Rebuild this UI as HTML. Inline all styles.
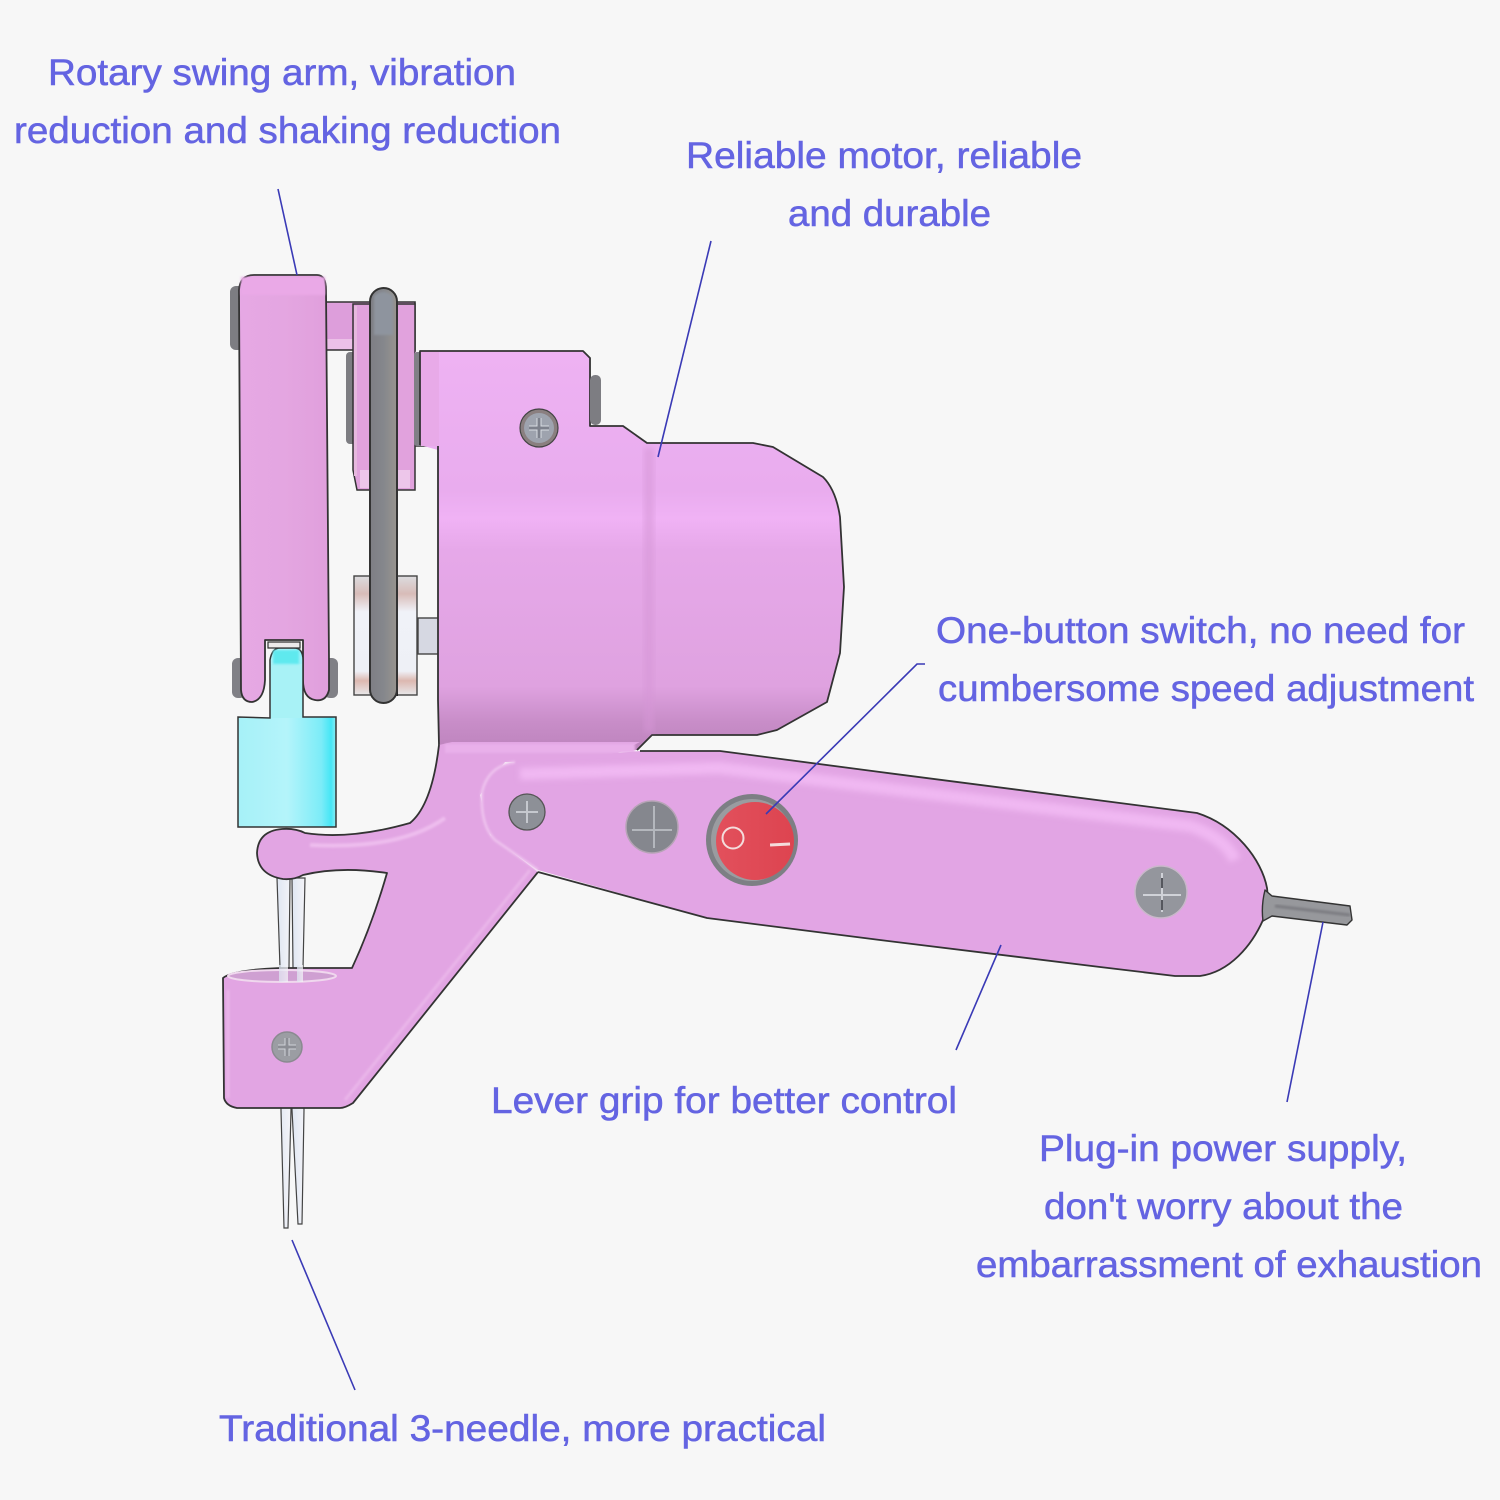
<!DOCTYPE html>
<html><head><meta charset="utf-8"><style>
html,body{margin:0;padding:0;background:#f7f7f7}
svg{display:block}
text{font-family:"Liberation Sans",sans-serif;font-size:37px;fill:#6464e2;stroke:#6464e2;stroke-width:.55px}
</style></head><body>
<svg width="1500" height="1500" viewBox="0 0 1500 1500" xmlns="http://www.w3.org/2000/svg">
<defs>
<filter id="b3" x="-20%" y="-20%" width="140%" height="140%"><feGaussianBlur stdDeviation="3"/></filter>
<filter id="b1" x="-20%" y="-20%" width="140%" height="140%"><feGaussianBlur stdDeviation="1"/></filter>
<linearGradient id="motor" x1="0" y1="0" x2="0" y2="1">
<stop offset="0" stop-color="#eeb2f3"/><stop offset=".35" stop-color="#e9acee"/><stop offset=".42" stop-color="#f0b2f5"/><stop offset=".5" stop-color="#e6a8e9"/><stop offset=".84" stop-color="#dfa2e0"/><stop offset=".93" stop-color="#c88dc8"/><stop offset="1" stop-color="#bd84bd"/>
</linearGradient>
<linearGradient id="arm" x1="0" y1="0" x2="1" y2="0">
<stop offset="0" stop-color="#e6a8e4"/><stop offset=".5" stop-color="#e4a6e1"/><stop offset="1" stop-color="#e09fdc"/>
</linearGradient>
<linearGradient id="cyan" x1="0" y1="0" x2="1" y2="0">
<stop offset="0" stop-color="#a6f1f8"/><stop offset=".5" stop-color="#b4f4fa"/><stop offset=".85" stop-color="#7cecf8"/><stop offset=".95" stop-color="#45e6f6"/><stop offset="1" stop-color="#8cecf4"/>
</linearGradient>
<linearGradient id="belt" x1="0" y1="0" x2="1" y2="0">
<stop offset="0" stop-color="#7e7e84"/><stop offset=".5" stop-color="#85878c"/><stop offset="1" stop-color="#98948f"/>
</linearGradient>
<linearGradient id="silver" x1="0" y1="0" x2="0" y2="1">
<stop offset="0" stop-color="#dcdcdf"/><stop offset=".15" stop-color="#d8bcb8"/><stop offset=".3" stop-color="#f0f2f8"/><stop offset=".8" stop-color="#eef0f6"/><stop offset=".88" stop-color="#dcb8b0"/><stop offset="1" stop-color="#e8e8ea"/>
</linearGradient>
<linearGradient id="red" x1="0" y1="0" x2="1" y2="0">
<stop offset="0" stop-color="#e2505c"/><stop offset="1" stop-color="#dd4450"/>
</linearGradient>
<linearGradient id="needle" x1="0" y1="0" x2="1" y2="0">
<stop offset="0" stop-color="#dfe6f2"/><stop offset="1" stop-color="#f4f4f8"/>
</linearGradient>
</defs>
<rect width="1500" height="1500" fill="#f7f7f7"/>

<!-- needles -->
<g stroke="#444" stroke-width="1.2" fill="url(#needle)">
<path d="M277 878 L280 968 L281 1110 L284 1228 L288 1228 L291 1110 L289 968 L290 878Z"/>
<path d="M292 878 L293 968 L292 1110 L298 1224 L302 1224 L304 1110 L303 968 L305 878Z"/>
</g>

<!-- top link bar and shaft -->
<path d="M326 302 H415 V350 H326Z" fill="#dfa0dc" stroke="#333" stroke-width="1.6"/>
<rect x="326" y="304" width="28" height="36" fill="#dd9edb"/>
<rect x="326" y="339" width="28" height="10" fill="#ecc0e8"/>
<!-- top pulley -->
<rect x="346" y="352" width="10" height="92" rx="4" fill="#7d7d82"/>
<path d="M353 304 H370 V302 H397 V304 H415 V490 H357 L353 470 Z" fill="#e1a2dd" stroke="#333" stroke-width="1.5"/>
<rect x="354" y="306" width="3" height="170" fill="#e6b8de"/>
<rect x="360" y="470" width="50" height="18" fill="#edc6ea"/>
<rect x="415" y="352" width="24" height="94" fill="#dfa0df"/>
<path d="M415 446 H439" stroke="#333" stroke-width="1.6"/>
<rect x="414" y="352" width="8" height="94" rx="3" fill="#808086"/>

<!-- lower pulley -->
<rect x="418" y="618" width="22" height="36" fill="#d6d8e2" stroke="#444" stroke-width="1.4"/>
<rect x="354" y="576" width="63" height="119" fill="url(#silver)" stroke="#444" stroke-width="1.4"/>
<rect x="371" y="600" width="3" height="96" fill="#222"/>
<rect x="395" y="600" width="3" height="96" fill="#222"/>
<!-- belt -->
<rect x="370" y="288" width="27" height="415" rx="13.5" fill="url(#belt)" stroke="#333" stroke-width="2"/>
<path d="M383 380 V690" stroke="#65676d" stroke-width="6" filter="url(#b1)"/>
<path d="M374 296 Q383 288 393 296 V335 H374Z" fill="#8e949e" filter="url(#b1)"/>

<!-- motor -->
<path d="M420 351 H583 L590 358 V426 H623 L647 443 H753 L773 447 L823 477 Q836 490 840 517 L844 587 L840 653 L827 702 L777 730 L757 735 H652 L637 750 L440 750 L438 700 V450 L420 445 Z" fill="url(#motor)"/>
<path d="M439 745 L438 700 V446 M420 445 V351 H583 L590 358 V426 H623 L647 443 H753 L773 447 L823 477 Q836 490 840 517 L844 587 L840 653 L827 702 L777 730 L757 735 H652 L637 750" fill="none" stroke="#333" stroke-width="1.8" stroke-linejoin="round"/>
<rect x="421" y="352" width="18" height="94" fill="#e8aae8"/>
<rect x="590" y="375" width="11" height="50" rx="5" fill="#7d7d82"/>
<rect x="644" y="448" width="10" height="284" fill="#d596d6" opacity=".55" filter="url(#b3)"/>
<circle cx="539" cy="428" r="19" fill="#8a7f80" stroke="#444" stroke-width="1.2"/>
<circle cx="539" cy="428" r="15" fill="#9ea3ae"/>
<path d="M539 418 V438 M529 428 H549" stroke="#d8dce2" stroke-width="5"/>
<path d="M539 418 V438 M529 428 H549" stroke="#7d818c" stroke-width="3"/>

<!-- swing arm -->
<rect x="230" y="286" width="14" height="64" rx="6" fill="#7d7d82"/>
<rect x="232" y="658" width="14" height="40" rx="6" fill="#808086"/>
<rect x="324" y="658" width="14" height="40" rx="6" fill="#808086"/>
<path d="M239 290 Q240 275 254 275 H317 Q326 275 326 290 L329 660 L329 690 Q326 702 315 700 Q303 698 303 680 V640 H265 V680 Q264 700 252 702 Q242 702 241 690 Z" fill="url(#arm)" stroke="#333" stroke-width="1.8" stroke-linejoin="round"/>
<rect x="241" y="277" width="84" height="18" fill="#eaa9e7" filter="url(#b1)"/>

<!-- cyan holder -->
<path d="M270 718 V660 Q272 648 280 648 H294 Q303 648 303 660 V717 H336 V827 H238 V717 Z" fill="url(#cyan)" stroke="#333" stroke-width="1.5"/>
<rect x="271" y="664" width="31" height="54" fill="#a8f2f6"/>
<rect x="273" y="650" width="26" height="14" fill="#5fe9ee" filter="url(#b1)"/>
<path d="M268 642 H300 V648 H268Z" fill="#eceaea" stroke="#333" stroke-width="1.2"/>

<!-- frame -->
<path d="M439 745 L452 742 H640 L600 762 L505 762 L480 795 L490 835 L538 872 L353 1103 Q345 1108 340 1108 H237 Q226 1106 224 1098 L223 978 Q232 970 280 968 H352 Q372 925 387 873 Q340 866 303 875 Q294 880 283 879 Q258 875 257 853 Q258 831 282 829 Q295 828 305 833 Q350 840 410 823 Q432 805 439 745 Z" fill="#e2a5e3"/>
<path d="M538 872 L353 1103 Q345 1108 340 1108 H237 Q226 1106 224 1098 L223 978 Q232 970 280 968 H352 Q372 925 387 873 Q340 866 303 875 Q294 880 283 879 Q258 875 257 853 Q258 831 282 829 Q295 828 305 833 Q350 840 410 823 Q432 805 439 745" fill="none" stroke="#333" stroke-width="1.8" stroke-linejoin="round"/>
<rect x="445" y="744" width="190" height="9" fill="#e9b0ea" filter="url(#b1)"/>
<ellipse cx="282" cy="976" rx="54" ry="6" fill="#cfa0d2" stroke="#f0d8ee" stroke-width="2"/>
<path d="M310 845 Q400 850 445 818" stroke="#eebdee" stroke-width="4" fill="none" filter="url(#b1)"/>
<path d="M225 985 H375" stroke="#f0c4ee" stroke-width="3" filter="url(#b1)"/>
<path d="M228 990 V1098 M345 1100 L530 870" stroke="#edbdec" stroke-width="3" fill="none" filter="url(#b1)" opacity=".7"/>
<g fill="url(#needle)" opacity=".75"><rect x="279" y="965" width="9" height="17"/><rect x="297" y="965" width="6" height="17"/></g>
<circle cx="287" cy="1047" r="15" fill="#9b9da3" stroke="#8a8a90" stroke-width="1.5"/>
<path d="M287 1038 V1056 M278 1047 H296" stroke="#cfd2d8" stroke-width="5"/>
<path d="M287 1038 V1056 M278 1047 H296" stroke="#8c8e95" stroke-width="3"/>

<!-- grip -->
<path d="M538 870 L707 918 L880 940 L1100 967 L1175 976 H1200 C1230 972 1252 945 1263 920 C1268 905 1268 895 1267 888 C1262 860 1235 825 1197 813 L880 772 L720 751 H640 L515 762 Q488 766 482 792 Q480 825 495 840 Z" fill="#e2a5e4"/>
<path d="M520 774 L720 768 L1190 826 Q1225 838 1235 860" stroke="#f0b8f2" stroke-width="12" fill="none" filter="url(#b3)"/>
<path d="M515 762 Q488 766 482 792 Q480 825 495 840 L538 870" fill="none" stroke="#efc4ef" stroke-width="2.5" filter="url(#b1)"/>
<path d="M538 872 L707 918 L880 940 L1100 967 L1175 976 H1200 C1230 972 1252 945 1263 920 C1268 905 1268 895 1267 888 C1262 860 1235 825 1197 813 L880 772 L720 751 H640" fill="none" stroke="#333" stroke-width="1.8" stroke-linejoin="round"/>
<!-- pin -->
<path d="M1265 890 L1272 896 L1350 906 L1352 920 L1347 925 L1272 916 L1263 921 Q1261 906 1265 890Z" fill="#97989c" stroke="#333" stroke-width="1.4" stroke-linejoin="round"/>
<path d="M1275 906 L1350 915" stroke="#7b7c81" stroke-width="3" filter="url(#b1)"/>
<!-- screws -->
<circle cx="527" cy="812" r="18" fill="#8d9097" stroke="#555" stroke-width="1.3"/>
<path d="M527 801 V823 M516 812 H538" stroke="#c5c8ce" stroke-width="2"/>
<circle cx="652" cy="827" r="26" fill="#85878e" stroke="#b6a4b6" stroke-width="1.5"/>
<path d="M654 806 V848 M632 830 H672" stroke="#b4b7bd" stroke-width="2"/>
<circle cx="1161" cy="892" r="26" fill="#94969d" stroke="#c9b8ca" stroke-width="1.5"/>
<path d="M1162 873 V912 M1143 895 H1181" stroke="#d0d2d8" stroke-width="2"/>
<path d="M1162 878 V888 M1162 900 V910" stroke="#55575e" stroke-width="2"/>
<circle cx="752" cy="840" r="46" fill="#7d7f84"/>
<circle cx="752" cy="840" r="41" fill="#9a9ca0"/>
<circle cx="755" cy="841" r="39" fill="url(#red)"/>
<circle cx="733" cy="838" r="10.5" fill="none" stroke="#f4dcdc" stroke-width="2"/>
<rect x="770" y="843" width="20" height="3" transform="rotate(-3 780 844)" fill="#f4dcdc"/>

<!-- connector lines -->
<g stroke="#3a3ab6" stroke-width="1.6" fill="none">
<path d="M278 189 L297 275"/>
<path d="M711 241 L658 457"/>
<path d="M925 664 H917 L766 814"/>
<path d="M1001 945 L956 1050"/>
<path d="M1323 922 L1287 1102"/>
<path d="M292 1240 L355 1390"/>
</g>

<!-- labels -->
<text x="48" y="85" textLength="468" lengthAdjust="spacingAndGlyphs">Rotary swing arm, vibration</text>
<text x="14" y="143" textLength="547" lengthAdjust="spacingAndGlyphs">reduction and shaking reduction</text>
<text x="686" y="168" textLength="396" lengthAdjust="spacingAndGlyphs">Reliable motor, reliable</text>
<text x="788" y="226" textLength="203" lengthAdjust="spacingAndGlyphs">and durable</text>
<text x="936" y="643" textLength="529" lengthAdjust="spacingAndGlyphs">One-button switch, no need for</text>
<text x="938" y="701" textLength="536" lengthAdjust="spacingAndGlyphs">cumbersome speed adjustment</text>
<text x="491" y="1113" textLength="466" lengthAdjust="spacingAndGlyphs">Lever grip for better control</text>
<text x="1039" y="1161" textLength="368" lengthAdjust="spacingAndGlyphs">Plug-in power supply,</text>
<text x="1044" y="1219" textLength="359" lengthAdjust="spacingAndGlyphs">don't worry about the</text>
<text x="976" y="1277" textLength="506" lengthAdjust="spacingAndGlyphs">embarrassment of exhaustion</text>
<text x="219" y="1441" textLength="607" lengthAdjust="spacingAndGlyphs">Traditional 3-needle, more practical</text>
</svg>
</body></html>
